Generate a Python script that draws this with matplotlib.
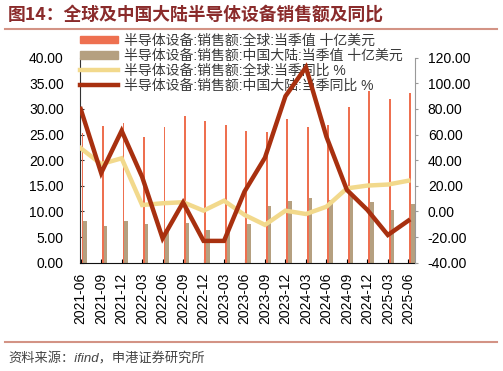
import matplotlib
matplotlib.use("Agg")
import matplotlib.pyplot as plt
from matplotlib.lines import Line2D
import numpy as np

plt.rcParams["font.family"] = ["Liberation Sans", "Noto Sans CJK SC"]

quarters = ["2021-06", "2021-09", "2021-12", "2022-03", "2022-06", "2022-09",
            "2022-12", "2023-03", "2023-06", "2023-09", "2023-12", "2024-03",
            "2024-06", "2024-09", "2024-12", "2025-03", "2025-06"]
global_sales = [25.3, 26.7, 27.3, 24.6, 26.4, 28.7, 27.7, 26.8, 25.8, 25.6,
                28.0, 26.4, 26.8, 30.3, 33.5, 32.0, 33.1]
china_sales = [8.2, 7.2, 8.2, 7.6, 6.5, 7.8, 6.3, 5.9, 7.6, 11.1,
               12.1, 12.6, 12.2, 13.0, 11.9, 10.3, 11.4]
global_yoy = [49.4, 37.0, 41.5, 5.0, 6.4, 7.2, 0.6, 8.4, -2.7, -10.5,
              0.6, -2.0, 3.7, 18.0, 20.2, 21.0, 24.0]
china_yoy = [80.0, 30.0, 63.0, 27.0, -21.0, 7.0, -23.0, -23.0, 15.5, 42.0,
             90.0, 112.6, 58.4, 16.8, 1.2, -18.4, -7.2]

labels = [
    "半导体设备:销售额:全球:当季值 十亿美元",
    "半导体设备:销售额:中国大陆:当季值 十亿美元",
    "半导体设备:销售额:全球:当季同比 %",
    "半导体设备:销售额:中国大陆:当季同比 %",
]

ORANGE = "#EE7050"
TAN = "#B5A080"
YELLOW = "#F2D98C"
DARKRED = "#A8300F"

x = np.arange(len(quarters))

fig = plt.figure(figsize=(5.03, 3.71), dpi=100)
ax = fig.add_axes([0.160, 0.292, 0.6644, 0.5523])
ax2 = ax.twinx()

ax.bar(x + 0.09, global_sales, width=0.09, color=ORANGE, zorder=2)
ax.bar(x + 0.22, china_sales, width=0.17, color=TAN, zorder=2)
ax2.plot(x, global_yoy, color=YELLOW, lw=3.2, solid_joinstyle="miter")
ax2.plot(x, china_yoy, color=DARKRED, lw=3.2, solid_joinstyle="miter")

ax.set_xlim(-0.01, 16.31)
ax.set_ylim(0, 40)
ax2.set_ylim(-40, 120)
ax.set_yticks(np.arange(0, 41, 5))
ax.set_yticklabels([f"{v:.2f}" for v in np.arange(0, 41, 5)])
ax2.set_yticks(np.arange(-40, 121, 20))
ax2.set_yticklabels([f"{v:.2f}" for v in np.arange(-40, 121, 20)])
ax.set_xticks(x)
ax.set_xticklabels(quarters, rotation=90)

for a in (ax, ax2):
    a.spines["top"].set_visible(False)
ax.spines["right"].set_visible(False)
ax2.spines["left"].set_visible(False)
ax2.spines["bottom"].set_visible(False)
ax.spines["left"].set_color("#333333")
ax.spines["bottom"].set_color("#111111")
ax2.spines["right"].set_color("#999999")

ax.tick_params(axis="y", direction="in", length=3, pad=12, labelsize=10, color="#333333")
ax.tick_params(axis="x", direction="in", length=3, pad=7, labelsize=10)
ax2.tick_params(axis="y", direction="out", length=2.5, pad=7, labelsize=10, color="#999999")

# legend sits on the bar axes so the lines of the twin axes draw over it
handles = [
    plt.Rectangle((0, 0), 1, 1, color=ORANGE),
    plt.Rectangle((0, 0), 1, 1, color=TAN),
    Line2D([], [], color=YELLOW, lw=3.2),
    Line2D([], [], color=DARKRED, lw=3.2),
]
leg = ax.legend(handles, labels, loc="upper left", bbox_to_anchor=(0.159, 0.91),
                bbox_transform=fig.transFigure, frameon=False, fontsize=10,
                handlelength=2.75, handleheight=0.5, handletextpad=0.45,
                labelspacing=0.08, borderpad=0, borderaxespad=0)
for t in leg.get_texts():
    t.set_color("#3a3a3a")
ax.set_zorder(1)
ax2.set_zorder(2)
ax2.patch.set_visible(False)

fig.text(0.016, 0.962, "图14：全球及中国大陆半导体设备销售额及同比", fontsize=12.8,
         fontweight="bold", color="#8A2B2B", va="center", ha="left",
         family=["Noto Sans CJK SC"])
fig.add_artist(Line2D([0.01, 0.988], [0.921, 0.921], color="#D39385", lw=1.5,
                      transform=fig.transFigure))
fig.add_artist(Line2D([0.01, 0.988], [0.079, 0.079], color="#D39385", lw=1.5,
                      transform=fig.transFigure))
fig.text(0.016, 0.033, "资料来源：ifind，申港证券研究所", fontsize=9.5,
         color="#444444", va="center", ha="left", style="italic")

fig.savefig("out.png", dpi=100)
